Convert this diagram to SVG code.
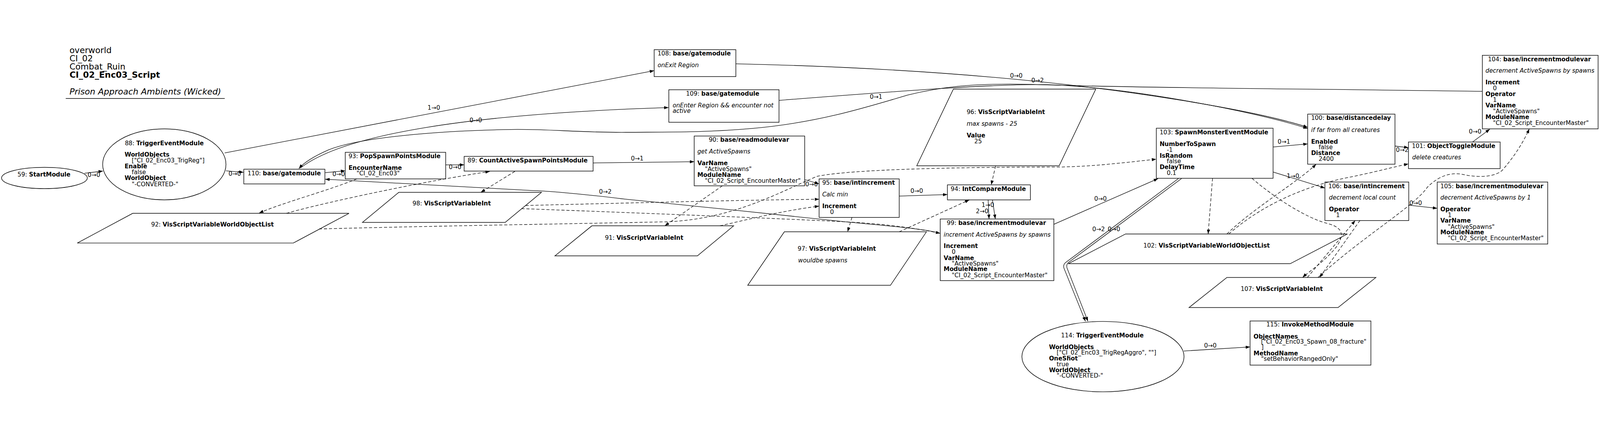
<svg xmlns="http://www.w3.org/2000/svg" width="5112" height="1119" viewBox="0 0 5112 1119" style="width:100%;height:100%" preserveAspectRatio="xMidYMid meet">
<style>
text{font-family:"DejaVu Sans","Liberation Sans",sans-serif;font-size:19px;fill:#000}
.b{font-weight:bold}
.i{font-style:italic}
.t{font-size:27px}
.n{fill:#fff;stroke:#000;stroke-width:1.8}
.e{fill:none;stroke:#000;stroke-width:1.6}
.d{stroke-dasharray:10 6}
</style>
<defs>
<marker id="a" markerWidth="14" markerHeight="10" refX="14" refY="5" orient="auto" markerUnits="userSpaceOnUse"><path d="M0,0 L14,5 L0,10 z" fill="#000"/></marker>
</defs>
<rect width="5112" height="1119" fill="#fff"/>
<g id="title">
<text class="t" x="222" y="31">overworld</text>
<text class="t" x="222" y="57">CI_02</text>
<text class="t" x="222" y="83">Combat_Ruin</text>
<text class="t b" x="222" y="110">CI_02_Enc03_Script</text>
<text class="t i" x="222" y="163">Prison Approach Ambients (Wicked)</text>
<line x1="210" y1="176" x2="718" y2="176" stroke="#000" stroke-width="1.8"/>
</g>
<g id="n59"><ellipse class="n" cx="142" cy="430" rx="137" ry="34"/><text x="56" y="425">59: <tspan class="b">StartModule</tspan></text></g>
<g id="n88"><ellipse class="n" cx="525" cy="386.5" rx="197" ry="113.5"/>
<text x="399" y="325">88: <tspan class="b">TriggerEventModule</tspan></text>
<text class="b" x="398" y="362">WorldObjects</text>
<text x="421" y="381">["CI_02_Enc03_TrigReg"]</text>
<text class="b" x="398" y="399.5">Enable</text>
<text x="421" y="418">false</text>
<text class="b" x="398" y="437">WorldObject</text>
<text x="421" y="456">"-CONVERTED-"</text></g>
<g id="n110"><rect class="n" x="779" y="402" width="259" height="47"/><text x="791" y="421">110: <tspan class="b">base/gatemodule</tspan></text></g>
<g id="n93"><rect class="n" x="1103" y="348" width="321" height="85"/>
<text x="1113.5" y="367">93: <tspan class="b">PopSpawnPointsModule</tspan></text>
<text class="b" x="1113.5" y="404">EncounterName</text>
<text x="1139" y="422">"CI_02_Enc03"</text></g>
<g id="n89"><rect class="n" x="1483" y="361" width="412" height="47"/><text x="1494" y="380">89: <tspan class="b">CountActiveSpawnPointsModule</tspan></text></g>
<g id="n98"><polygon class="n" points="1274,476 1730,476 1614,572 1158,572"/><text x="1318" y="518">98: <tspan class="b">VisScriptVariableInt</tspan></text></g>
<g id="n92"><polygon class="n" points="424,543 1115,543 937,638 247,638"/><text x="483" y="585">92: <tspan class="b">VisScriptVariableWorldObjectList</tspan></text></g>
<g id="n90"><rect class="n" x="2218" y="296" width="353" height="159"/>
<text x="2264.5" y="314">90: <tspan class="b">base/readmodulevar</tspan></text>
<text class="i" x="2228" y="351.7">get ActiveSpawns</text>
<text class="b" x="2228" y="389">VarName</text>
<text x="2252" y="407.7">"ActiveSpawns"</text>
<text class="b" x="2228" y="426">ModuleName</text>
<text x="2252" y="445">"CI_02_Script_EncounterMaster"</text></g>
<g id="n91"><polygon class="n" points="1891,583 2344,583 2228,679 1773,679"/><text x="1933" y="627">91: <tspan class="b">VisScriptVariableInt</tspan></text></g>
<g id="n95"><rect class="n" x="2617" y="433" width="256" height="123"/>
<text x="2627" y="452">95: <tspan class="b">base/intincrement</tspan></text>
<text class="i" x="2627" y="489">Calc min</text>
<text class="b" x="2627" y="527">Increment</text>
<text x="2652" y="545">0</text></g>
<g id="n94"><rect class="n" x="3027" y="452" width="265" height="48"/><text x="3037.5" y="471">94: <tspan class="b">IntCompareModule</tspan></text></g>
<g id="n97"><polygon class="n" points="2506,602 2960,602 2845,773 2389,773"/>
<text x="2548.5" y="663">97: <tspan class="b">VisScriptVariableInt</tspan></text>
<text class="i" x="2550" y="700">wouldbe spawns</text></g>
<g id="n99"><rect class="n" x="3004" y="561" width="363" height="197"/>
<text x="3025" y="580">99: <tspan class="b">base/incrementmodulevar</tspan></text>
<text class="i" x="3015" y="617">increment ActiveSpawns by spawns</text>
<text class="b" x="3015" y="654">Increment</text>
<text x="3041" y="672">0</text>
<text class="b" x="3015" y="692">VarName</text>
<text x="3041" y="710">"ActiveSpawns"</text>
<text class="b" x="3015" y="728">ModuleName</text>
<text x="3041" y="747">"CI_02_Script_EncounterMaster"</text></g>
<g id="n96"><polygon class="n" points="3046,146 3501,146 3384,391 2929,391"/>
<text x="3088.5" y="226">96: <tspan class="b">VisScriptVariableInt</tspan></text>
<text class="i" x="3088.5" y="263">max spawns - 25</text>
<text class="b" x="3088.5" y="301">Value</text>
<text x="3113" y="319">25</text></g>
<g id="n108"><rect class="n" x="2090" y="20" width="261" height="86"/>
<text x="2101" y="38">108: <tspan class="b">base/gatemodule</tspan></text>
<text class="i" x="2101" y="76">onExit Region</text></g>
<g id="n109"><rect class="n" x="2137" y="148" width="352" height="104"/>
<text x="2192" y="167">109: <tspan class="b">base/gatemodule</tspan></text>
<text class="i" x="2149" y="204">onEnter Region &amp;&amp; encounter not</text>
<text class="i" x="2149" y="222">active</text></g>
<g id="n103"><rect class="n" x="3694.5" y="271" width="373" height="160"/>
<text x="3705" y="291">103: <tspan class="b">SpawnMonsterEventModule</tspan></text>
<text class="b" x="3705" y="328">NumberToSpawn</text>
<text x="3728" y="347">-1</text>
<text class="b" x="3705" y="365">IsRandom</text>
<text x="3728" y="383">false</text>
<text class="b" x="3705" y="402">DelayTime</text>
<text x="3728" y="420">0.1</text></g>
<g id="n100"><rect class="n" x="4178" y="226" width="279" height="160"/>
<text x="4189" y="245">100: <tspan class="b">base/distancedelay</tspan></text>
<text class="i" x="4189" y="283">if far from all creatures</text>
<text class="b" x="4189" y="320">Enabled</text>
<text x="4213" y="338">false</text>
<text class="b" x="4189" y="357">Distance</text>
<text x="4213" y="375">2400</text></g>
<g id="n101"><rect class="n" x="4500" y="315" width="293" height="85"/>
<text x="4511" y="334">101: <tspan class="b">ObjectToggleModule</tspan></text>
<text class="i" x="4512" y="371">delete creatures</text></g>
<g id="n104"><rect class="n" x="4736" y="38" width="370" height="235"/>
<text x="4754" y="57">104: <tspan class="b">base/incrementmodulevar</tspan></text>
<text class="i" x="4746" y="93">decrement ActiveSpawns by spawns</text>
<text class="b" x="4746" y="131">Increment</text>
<text x="4770" y="149">0</text>
<text class="b" x="4746" y="168">Operator</text>
<text x="4770" y="187">1</text>
<text class="b" x="4746" y="205">VarName</text>
<text x="4770" y="223">"ActiveSpawns"</text>
<text class="b" x="4746" y="242">ModuleName</text>
<text x="4770" y="261">"CI_02_Script_EncounterMaster"</text></g>
<g id="n106"><rect class="n" x="4233" y="443" width="268" height="123"/>
<text x="4244" y="463">106: <tspan class="b">base/intincrement</tspan></text>
<text class="i" x="4246" y="499">decrement local count</text>
<text class="b" x="4246" y="537">Operator</text>
<text x="4268.5" y="555">1</text></g>
<g id="n105"><rect class="n" x="4592" y="443" width="353" height="198"/>
<text x="4602" y="463">105: <tspan class="b">base/incrementmodulevar</tspan></text>
<text class="i" x="4602" y="499">decrement ActiveSpawns by 1</text>
<text class="b" x="4602" y="537">Operator</text>
<text x="4626" y="555">1</text>
<text class="b" x="4602" y="573">VarName</text>
<text x="4626" y="592">"ActiveSpawns"</text>
<text class="b" x="4602" y="610">ModuleName</text>
<text x="4626" y="629">"CI_02_Script_EncounterMaster"</text></g>
<g id="n102"><polygon class="n" points="3596,609 4305,609 4122,704 3413,704"/><text x="3653" y="652">102: <tspan class="b">VisScriptVariableWorldObjectList</tspan></text></g>
<g id="n107"><polygon class="n" points="3920,748 4396,748 4275,844 3799,844"/><text x="3964" y="791">107: <tspan class="b">VisScriptVariableInt</tspan></text></g>
<g id="n114"><ellipse class="n" cx="3524" cy="1001" rx="259" ry="112.5"/>
<text x="3390" y="939">114: <tspan class="b">TriggerEventModule</tspan></text>
<text class="b" x="3351.5" y="977">WorldObjects</text>
<text x="3376" y="995">["CI_02_Enc03_TrigRegAggro", ""]</text>
<text class="b" x="3351.5" y="1013">OneShot</text>
<text x="3376" y="1032">true</text>
<text class="b" x="3351.5" y="1051">WorldObject</text>
<text x="3376" y="1068">"-CONVERTED-"</text></g>
<g id="n115"><rect class="n" x="3994" y="887" width="386" height="141"/>
<text x="4046" y="904">115: <tspan class="b">InvokeMethodModule</tspan></text>
<text class="b" x="4005" y="943">ObjectNames</text>
<text x="4029" y="960">["CI_02_Enc03_Spawn_08_fracture"</text>
<text x="4030" y="977">]</text>
<text class="b" x="4005" y="997">MethodName</text>
<text x="4029" y="1015">"setBehaviorRangedOnly"</text></g>
<g id="connectors">
<path class="e" marker-end="url(#a)" d="M270,415 L329,408"/><text x="280" y="426">0→0</text>
<path class="e" marker-end="url(#a)" d="M722,407 L778,412"/><text x="730" y="423">0→0</text>
<path class="e" marker-end="url(#a)" d="M718,350 L2090,87"/><text x="1366" y="212">1→0</text>
<path class="e" marker-end="url(#a)" d="M960,398 C1100,290 1500,225 2136,205"/><text x="1500" y="252">0→0</text>
<path class="e" marker-end="url(#a)" d="M4736,153 L4250,147 C3800,142 3450,137 3300,131 C3100,126 3000,140 2900,165 C2750,210 2600,255 2400,272 C2250,285 2150,283 2000,284 C1850,285 1750,273 1633,275 C1400,279 1150,300 1050,340 C1000,362 970,382 955,400"/><text x="2779" y="177">0→1</text>
<path class="e" marker-end="url(#a)" d="M2351,65 C2800,75 3100,100 3300,120 C3600,150 4000,210 4178,268"/><text x="3227" y="109">0→0</text>
<path class="e" marker-end="url(#a)" d="M2489,182 C2900,150 3200,128 3350,132 C3600,140 4000,215 4178,272"/><text x="3295" y="125">0→2</text>
<path class="e" marker-end="url(#a)" d="M1039,413 L1103,407"/><text x="1062" y="424">0→0</text>
<path class="e" marker-end="url(#a)" d="M1424,388 L1483,388"/><text x="1434" y="402">0→0</text>
<path class="e" marker-end="url(#a)" d="M1895,382 L2218,378"/><text x="2016" y="374">0→1</text>
<path class="e" marker-end="url(#a)" d="M2571,435 L2617,449"/><text x="2573" y="457">0→0</text>
<path class="e" marker-end="url(#a)" d="M2873,488 L3027,483"/><text x="2909" y="478">0→0</text>
<path class="e" marker-end="url(#a)" d="M3171,500 L3180,561"/><text x="3136" y="523">1→0</text>
<path class="e" marker-end="url(#a)" d="M3157,500 L3160,561"/><text x="3118" y="543">2→0</text>
<path class="e" marker-end="url(#a)" d="M3004,607 C2960,592 2800,580 2700,570 L2350,533 L2000,498 C1850,480 1760,472 1700,470 L1039,434"/><text x="1914" y="480">0→2</text>
<path class="e" marker-end="url(#a)" d="M3367,578 L3700,432"/><text x="3496" y="503">0→0</text>
<path class="e" marker-end="url(#a)" d="M3765,432 L3405,700 Q3395,708 3400,720 L3468,888"/><text x="3490" y="600">0→2</text>
<path class="e" marker-end="url(#a)" d="M3775,432 L3414,700 Q3405,708 3410,720 L3476,888"/><text x="3539" y="600">0→0</text>
<path class="e" marker-end="url(#a)" d="M4068,331 L4178,321"/><text x="4082" y="320">0→1</text>
<path class="e" marker-end="url(#a)" d="M4068,411 L4233,462"/><text x="4111" y="430">1→0</text>
<path class="e" marker-end="url(#a)" d="M4457,328 L4500,333"/><text x="4460" y="347">0→2</text>
<path class="e" marker-end="url(#a)" d="M4705,315 L4760,274"/><text x="4693" y="288">0→0</text>
<path class="e" marker-end="url(#a)" d="M4501,517 L4592,527"/><text x="4503" y="517">0→0</text>
<path class="e" marker-end="url(#a)" d="M3782,983 L3994,970"/><text x="3847" y="972">0→0</text>
<path class="e d" marker-end="url(#a)" d="M1140,433 C1050,470 900,510 828,542"/>
<path class="e d" marker-end="url(#a)" d="M915,543 C1000,518 1300,450 1565,409"/>
<path class="e d" marker-end="url(#a)" d="M1645,409 L1536,476"/>
<path class="e d" marker-end="url(#a)" d="M1019,593 C1300,585 1900,575 2134,570 C2350,560 2500,470 2610,425 C2700,405 3000,395 3384,395 C3500,393 3600,380 3694,370"/>
<path class="e d" marker-end="url(#a)" d="M1679,518 C2000,510 2400,500 2617,498"/>
<path class="e d" marker-end="url(#a)" d="M1666,528 C2000,540 2500,560 2700,570 C2850,578 2950,595 3004,607"/>
<path class="e d" marker-end="url(#a)" d="M2308,455 L2124,583"/>
<path class="e d" marker-end="url(#a)" d="M2300,583 C2400,560 2500,535 2617,520"/>
<path class="e d" marker-end="url(#a)" d="M2722,556 L2708,602"/>
<path class="e d" marker-end="url(#a)" d="M2873,602 L3097,500"/>
<path class="e d" marker-end="url(#a)" d="M3181,391 L3167,452"/>
<path class="e d" marker-end="url(#a)" d="M3874,431 L3860,609"/>
<path class="e d" marker-end="url(#a)" d="M3920,609 C4000,530 4150,440 4205,386"/>
<path class="e d" marker-end="url(#a)" d="M3926,609 C4050,500 4200,450 4300,430 C4400,410 4450,395 4500,385"/>
<path class="e d" marker-end="url(#a)" d="M4000,431 C4080,500 4180,560 4240,575 C4300,590 4290,620 4270,650 C4230,700 4180,730 4162,748"/>
<path class="e d" marker-end="url(#a)" d="M4345,566 L4216,748"/>
<path class="e d" marker-end="url(#a)" d="M4177,748 L4330,566"/>
<path class="e d" marker-end="url(#a)" d="M4211,748 C4350,620 4520,520 4560,460 C4600,420 4640,410 4680,420 C4730,430 4780,425 4800,405 C4840,360 4870,310 4886,273"/>
</g>
</svg>
